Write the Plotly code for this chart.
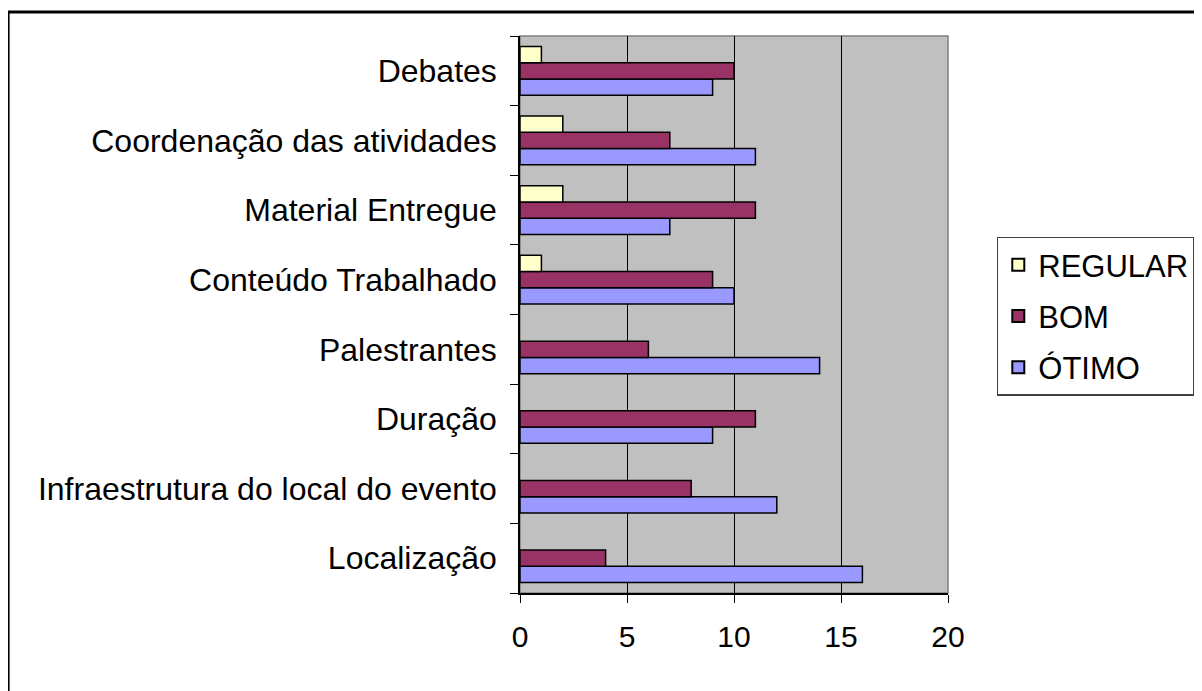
import plotly.graph_objects as go

categories = ["Localização", "Infraestrutura do local do evento", "Duração", "Palestrantes",
              "Conteúdo Trabalhado", "Material Entregue", "Coordenação das atividades", "Debates"]
otimo = [16, 12, 9, 14, 10, 7, 11, 9]
bom = [4, 8, 11, 6, 9, 11, 7, 10]
regular = [0, 0, 0, 0, 1, 2, 2, 1]
x_ticks = [0, 5, 10, 15, 20]

FONT = "Liberation Sans, Arial, sans-serif"

fig = go.Figure()
for rank, (name, vals, color) in zip([3, 2, 1], [("ÓTIMO", otimo, "#9999FF"), ("BOM", bom, "#993366"),
                                                ("REGULAR", regular, "#FFFFCC")]):
    fig.add_trace(go.Bar(
        y=categories, x=vals, name=name, orientation="h",
        marker=dict(color=color, line=dict(color="black", width=[0 if v == 0 else 1.5 for v in vals])),
        legendgroup=name, legendrank=rank,
    ))

fig.update_layout(
    width=1202, height=691,
    margin=dict(l=512, r=262, t=28, b=106),
    paper_bgcolor="white", plot_bgcolor="#C0C0C0",
    barmode="group", bargap=0.3, bargroupgap=0,
    font=dict(family=FONT, size=31, color="black"),
    showlegend=True,
    legend=dict(
        x=1.114, xanchor="left", y=0.64, yanchor="top",
        traceorder="grouped", tracegroupgap=8,
        bordercolor="#404040", borderwidth=1.5, bgcolor="white",
        font=dict(family=FONT, size=31, color="black"),
        itemsizing="constant",
    ),
    xaxis=dict(
        range=[0, 20], tickvals=x_ticks, ticks="outside", ticklen=8, tickcolor="black",
        showgrid=True, gridcolor="black", gridwidth=1,
        showline=True, linecolor="black", linewidth=1.5,
        zeroline=False, ticklabelstandoff=8,
        tickfont=dict(family=FONT, size=30),
    ),
    yaxis=dict(
        type="category", categoryorder="array", categoryarray=categories,
        tickson="boundaries", ticks="outside", ticklen=8, tickcolor="black",
        showgrid=False, showline=True, linecolor="black", linewidth=1.5,
        ticklabelstandoff=15,
        tickfont=dict(family=FONT, size=32),
    ),
    shapes=[
        dict(type="rect", xref="paper", yref="paper", x0=0, x1=1, y0=0, y1=1,
             line=dict(color="#808080", width=1.5), layer="below"),
        dict(type="rect", xref="paper", yref="paper", x0=-1.196, x1=1.8, y0=-0.6, y1=1.043,
             line=dict(color="black", width=3)),
    ],
)

fig.write_html("out.html")
